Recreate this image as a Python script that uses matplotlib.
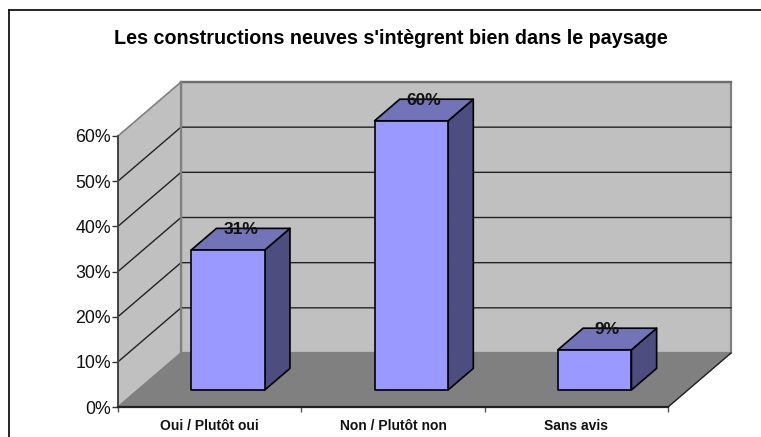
import matplotlib
matplotlib.use("Agg")
import matplotlib.pyplot as plt
from matplotlib.patches import Polygon

plt.rcParams['font.family'] = ['Liberation Sans', 'DejaVu Sans']

categories = ["Oui / Plutôt oui", "Non / Plutôt non", "Sans avis"]
values = [31, 59.6, 8.9]
value_labels = ["31%", "60%", "9%"]
y_ticks = [0, 10, 20, 30, 40, 50, 60]

W, H = 761, 437
fig = plt.figure(figsize=(W / 100, H / 100), dpi=100, facecolor='white')

# front plane of the 3D box, in pixels
L, R, B, T = 118, 668, 407, 136
ax = fig.add_axes([L / W, 1 - B / H, (R - L) / W, (B - T) / H])
ax.set_xlim(0, 3)
ax.set_ylim(0, 60)
ax.patch.set_alpha(0)

ux = (R - L) / 3      # px per category
uy = (B - T) / 60     # px per percent
DX, DY = 63 / ux, 54 / uy   # depth of the box, data units

def shift(x, y, d):
    return (x + d * DX, y + d * DY)

def poly(pts, **kw):
    p = Polygon(pts, closed=True, clip_on=False, **kw)
    ax.add_patch(p)

WALL = '#c0c0c0'
EDGE = '#808080'
# walls and floor
poly([shift(0, 0, 1), shift(3, 0, 1), shift(3, 60, 1), shift(0, 60, 1)],
     facecolor=WALL, edgecolor=EDGE, lw=1.6, zorder=1)
poly([(0, 0), shift(0, 0, 1), shift(0, 60, 1), (0, 60)],
     facecolor=WALL, edgecolor=EDGE, lw=1.2, zorder=1)
poly([(0, 0), (3, 0), shift(3, 0, 1), shift(0, 0, 1)],
     facecolor='#808080', edgecolor='#808080', lw=0.8, zorder=1)
ax.plot(*zip((3, 0), shift(3, 0, 1)), color='#222222', lw=1.0, clip_on=False, zorder=1.5)

# gridlines
for t in y_ticks[1:-1]:
    ax.plot(*zip((0, t), shift(0, t, 1), shift(3, t, 1)), color='#222222',
            lw=1.0, clip_on=False, zorder=2)
ax.plot(*zip(shift(0, 60, 1), shift(3, 60, 1)), color='#6e6e6e', lw=1.6,
        clip_on=False, zorder=2)
ax.plot(*zip(shift(0, 0, 1), shift(0, 60, 1)), color='#808080', lw=1.6,
        clip_on=False, zorder=2)

# bars
BW = 73.5 / ux
D0, D1 = 0.315, 0.715
for i, (cat, v, lab) in enumerate(zip(categories, values, value_labels)):
    x0 = i + 0.5 - BW / 2 - 1.5 / ux
    x1 = x0 + BW
    front = [shift(x0, 0, D0), shift(x1, 0, D0), shift(x1, v, D0), shift(x0, v, D0)]
    side = [shift(x1, 0, D0), shift(x1, 0, D1), shift(x1, v, D1), shift(x1, v, D0)]
    top = [shift(x0, v, D0), shift(x1, v, D0), shift(x1, v, D1), shift(x0, v, D1)]
    kw = dict(edgecolor='black', lw=1.2, joinstyle='round', zorder=3)
    poly(side, facecolor='#4d4d80', **kw)
    poly(top, facecolor='#7373b9', **kw)
    poly(front, facecolor='#9999ff', **kw)
    tx = ((x0 + x1) / 2 + (D0 + D1) / 2 * DX)
    ty = v + D1 * DY - 1.5 / uy
    ax.text(tx, ty, lab, ha='center', va='center', fontsize=12.5,
            fontweight='bold', color='#111111', zorder=4, clip_on=False)

# axes
for s in ('top', 'right'):
    ax.spines[s].set_visible(False)
ax.spines['left'].set_color('#444444')
ax.spines['left'].set_linewidth(1.4)
ax.spines['bottom'].set_color('#222222')
ax.spines['bottom'].set_linewidth(1.6)
for s in ax.spines.values():
    s.set_zorder(5)
ax.set_yticks(y_ticks)
ax.set_yticklabels([f"{t}%" for t in y_ticks], fontsize=12.8, color='#111111')
ax.tick_params(axis='y', length=4, width=1, color='#333333', pad=1)
ax.set_xticks([0, 1, 2, 3])
ax.set_xticklabels([])
ax.tick_params(axis='x', length=3.5, width=1, color='#555555')
ax.set_xticks([0.5, 1.5, 2.5], minor=True)
ax.set_xticklabels(categories, minor=True, fontsize=10, fontweight='bold', color='#111111')
ax.tick_params(axis='x', which='minor', length=0, pad=8.5)

fig.text(390.5 / W, 1 - 38 / H, "Les constructions neuves s'intègrent bien dans le paysage",
         ha='center', va='center', fontsize=14.2, fontweight='bold', color='black')

# chart frame
fig.add_artist(plt.Line2D([9 / W, 1], [1 - 9.5 / H] * 2, color='black', lw=1.2))
fig.add_artist(plt.Line2D([9 / W, 9 / W], [1 - 9.5 / H, 0], color='black', lw=1.2))

fig.savefig("out.png", dpi=100, facecolor='white')
